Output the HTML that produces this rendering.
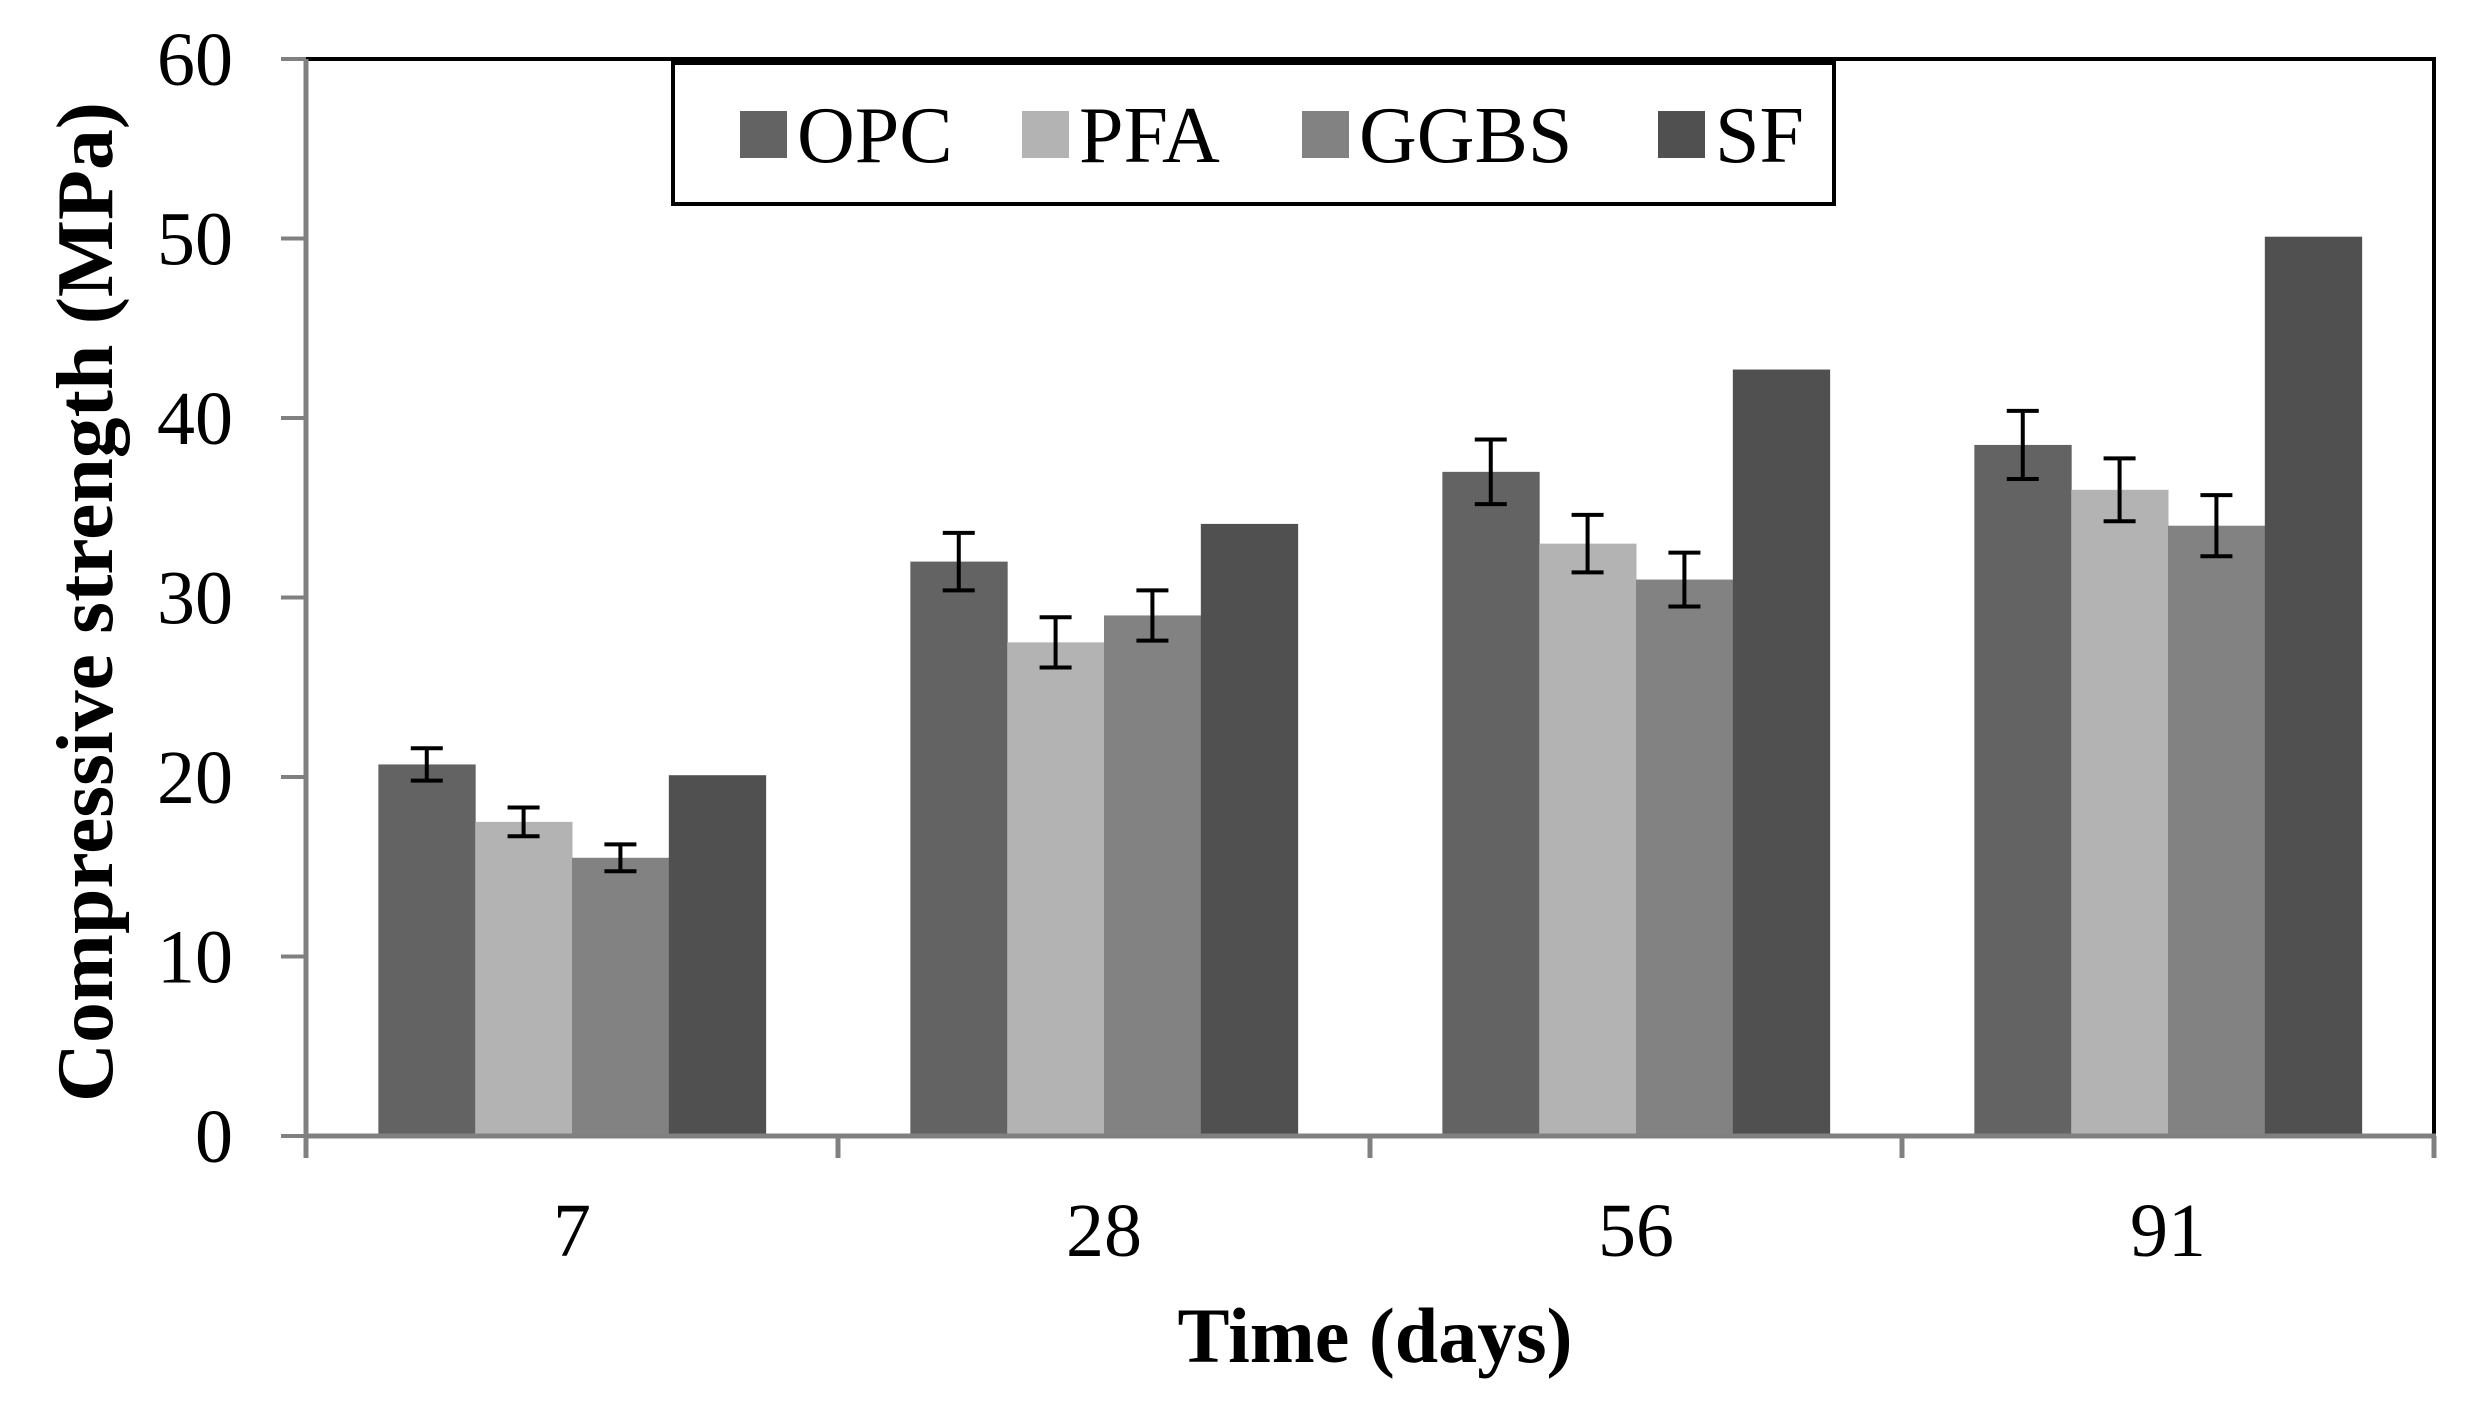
<!DOCTYPE html>
<html><head><meta charset="utf-8"><style>
html,body{margin:0;padding:0;background:#fff;}
svg{display:block;font-family:"Liberation Serif",serif;}
</style></head><body>
<svg id="chart" width="2471" height="1411" viewBox="0 0 2471 1411">
<g id="bars"></g>
<g id="axes"></g>
</svg>
<script>
const categories = ["7","28","56","91"];
const seriesNames = ["OPC","PFA","GGBS","SF"];
const opc = [20.7,32,37,38.5];
const pfa = [17.5,27.5,33,36];
const ggbs = [15.5,29,31,34];
const sf = [20.1,34.1,42.7,50.1];
const opcErr = [0.9,1.6,1.8,1.9];
const pfaErr = [0.8,1.4,1.6,1.75];
const ggbsErr = [0.75,1.4,1.5,1.7];
const sfErr = [0,0,0,0];
const yTicks = [0,10,20,30,40,50,60];

const NS="http://www.w3.org/2000/svg";
const gB=document.getElementById('bars');
const gA=document.getElementById('axes');
const L=306,R=2434,T=59,B=1136,YMAX=60;
const colors=["#636363","#b3b3b3","#828282","#505050"];
const values=[opc,pfa,ggbs,sf];
const errs=[opcErr,pfaErr,ggbsErr,sfErr];
function y(v){return B-(v/YMAX)*(B-T);}
const catW=(R-L)/categories.length;
function x(ci){return L+ci*catW;}
const barW=catW*0.182;
function mk(tag,attrs,parent){const e=document.createElementNS(NS,tag);for(const k in attrs)e.setAttribute(k,attrs[k]);parent.appendChild(e);return e;}

const frame=mk('rect',{x:L,y:T,width:R-L,height:B-T,fill:'none',stroke:'#000','stroke-width':4},gA);



values.forEach((ser,si)=>{
  ser.forEach((v,ci)=>{
    const bx=x(ci)+catW*0.136+si*barW;
    const r=mk('rect',{x:bx,y:y(v),width:barW+0.5,height:B-y(v),fill:colors[si]},gB);
    
    
    const e=errs[si][ci];
    if(e>0){
      const cx=bx+barW/2;
      const eg=mk('path',{d:`M${cx},${y(v+e)}V${y(v-e)}M${cx-16},${y(v+e)}H${cx+16}M${cx-16},${y(v-e)}H${cx+16}`,stroke:'#000','stroke-width':4,fill:'none'},gB);
      
      
    }
  });
});

const la=mk('line',{x1:L,y1:T,x2:L,y2:B+3,stroke:'#808080','stroke-width':5},gA);


const ba=mk('line',{x1:L-2,y1:B,x2:R+2,y2:B,stroke:'#808080','stroke-width':5},gA);


yTicks.forEach(t=>{
  const tl=mk('line',{x1:L-25,y1:y(t),x2:L,y2:y(t),stroke:'#808080','stroke-width':4},gA);
  
  
  const tx=mk('text',{x:233,y:y(t)+26,'text-anchor':'end','font-size':76},gA);
  tx.textContent=t;
  
  
});
for(let i=0;i<=categories.length;i++){
  const tl=mk('line',{x1:x(i),y1:B,x2:x(i),y2:B+22,stroke:'#808080','stroke-width':5},gA);
  
  
}
categories.forEach((c,ci)=>{
  const tx=mk('text',{x:x(ci)+catW/2,y:1256,'text-anchor':'middle','font-size':76},gA);
  tx.textContent=c;
  
  
});
const xt=mk('text',{x:1375,y:1362,'text-anchor':'middle','font-size':78,'font-weight':'bold'},gA);
xt.textContent='Time (days)';


const yt=mk('text',{x:0,y:0,'text-anchor':'middle','font-size':80,'font-weight':'bold',textLength:1000,lengthAdjust:'spacingAndGlyphs',transform:'translate(112,602) rotate(-90)'},gA);
yt.textContent='Compressive strength (MPa)';



const lg=mk('g',{},gA);


const lb=mk('rect',{x:673,y:63,width:1161,height:141,fill:'#fff',stroke:'#000','stroke-width':4},lg);


const sqX=[740,1022,1302,1658];
seriesNames.forEach((n,si)=>{
  const s=mk('rect',{x:sqX[si],y:111,width:47,height:47,fill:colors[si]},lg);
  
  
  const t=mk('text',{x:sqX[si]+57,y:162,'font-size':80},lg);
  t.textContent=n;
  
  
});
</script>
</body></html>
